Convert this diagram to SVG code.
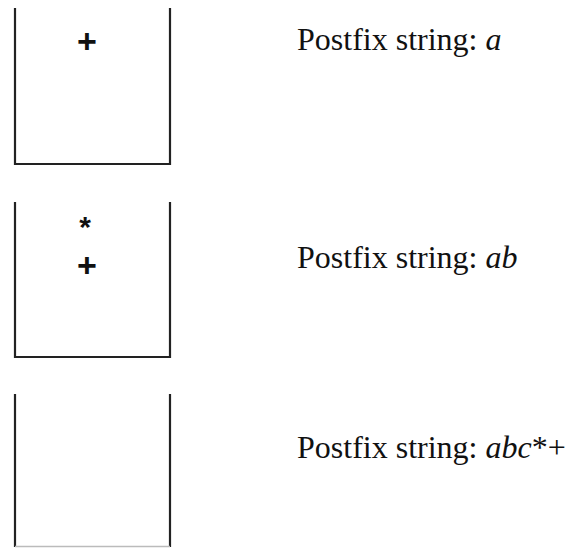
<svg xmlns="http://www.w3.org/2000/svg" width="569" height="548" viewBox="0 0 569 548">
<style>
.stack{fill:none;stroke:#222;stroke-width:2.2}
.lbl{font-family:"Liberation Serif",serif;font-size:32px;fill:#111}
.it{font-style:italic}
.sym{font-family:"Liberation Sans",sans-serif;font-weight:bold;fill:#111;text-anchor:middle}
</style>
<rect width="569" height="548" fill="#fff"/>
<g id="stack1">
<path class="stack" d="M15,8 V164 H170 V8"/>
<text class="sym" x="87" y="53" font-size="34">+</text>
</g>
<g id="label1"><text class="lbl" x="297" y="50">Postfix string: <tspan class="it">a</tspan></text></g>
<g id="stack2">
<path class="stack" d="M15,202 V357 H170 V202"/>
<text class="sym" x="85" y="237" font-size="30">*</text>
<text class="sym" x="87" y="277" font-size="34">+</text>
</g>
<g id="label2"><text class="lbl" x="297" y="268">Postfix string: <tspan class="it">ab</tspan></text></g>
<g id="stack3">
<path class="stack" d="M15,394 V547 M170,394 V547"/>
<path d="M15,546.5 H170" stroke="#bbb" stroke-width="1.5" fill="none"/>
</g>
<g id="label3"><text class="lbl" x="297" y="458">Postfix string: <tspan class="it">abc</tspan>*+</text></g>
<g id="connectors"/>
</svg>
